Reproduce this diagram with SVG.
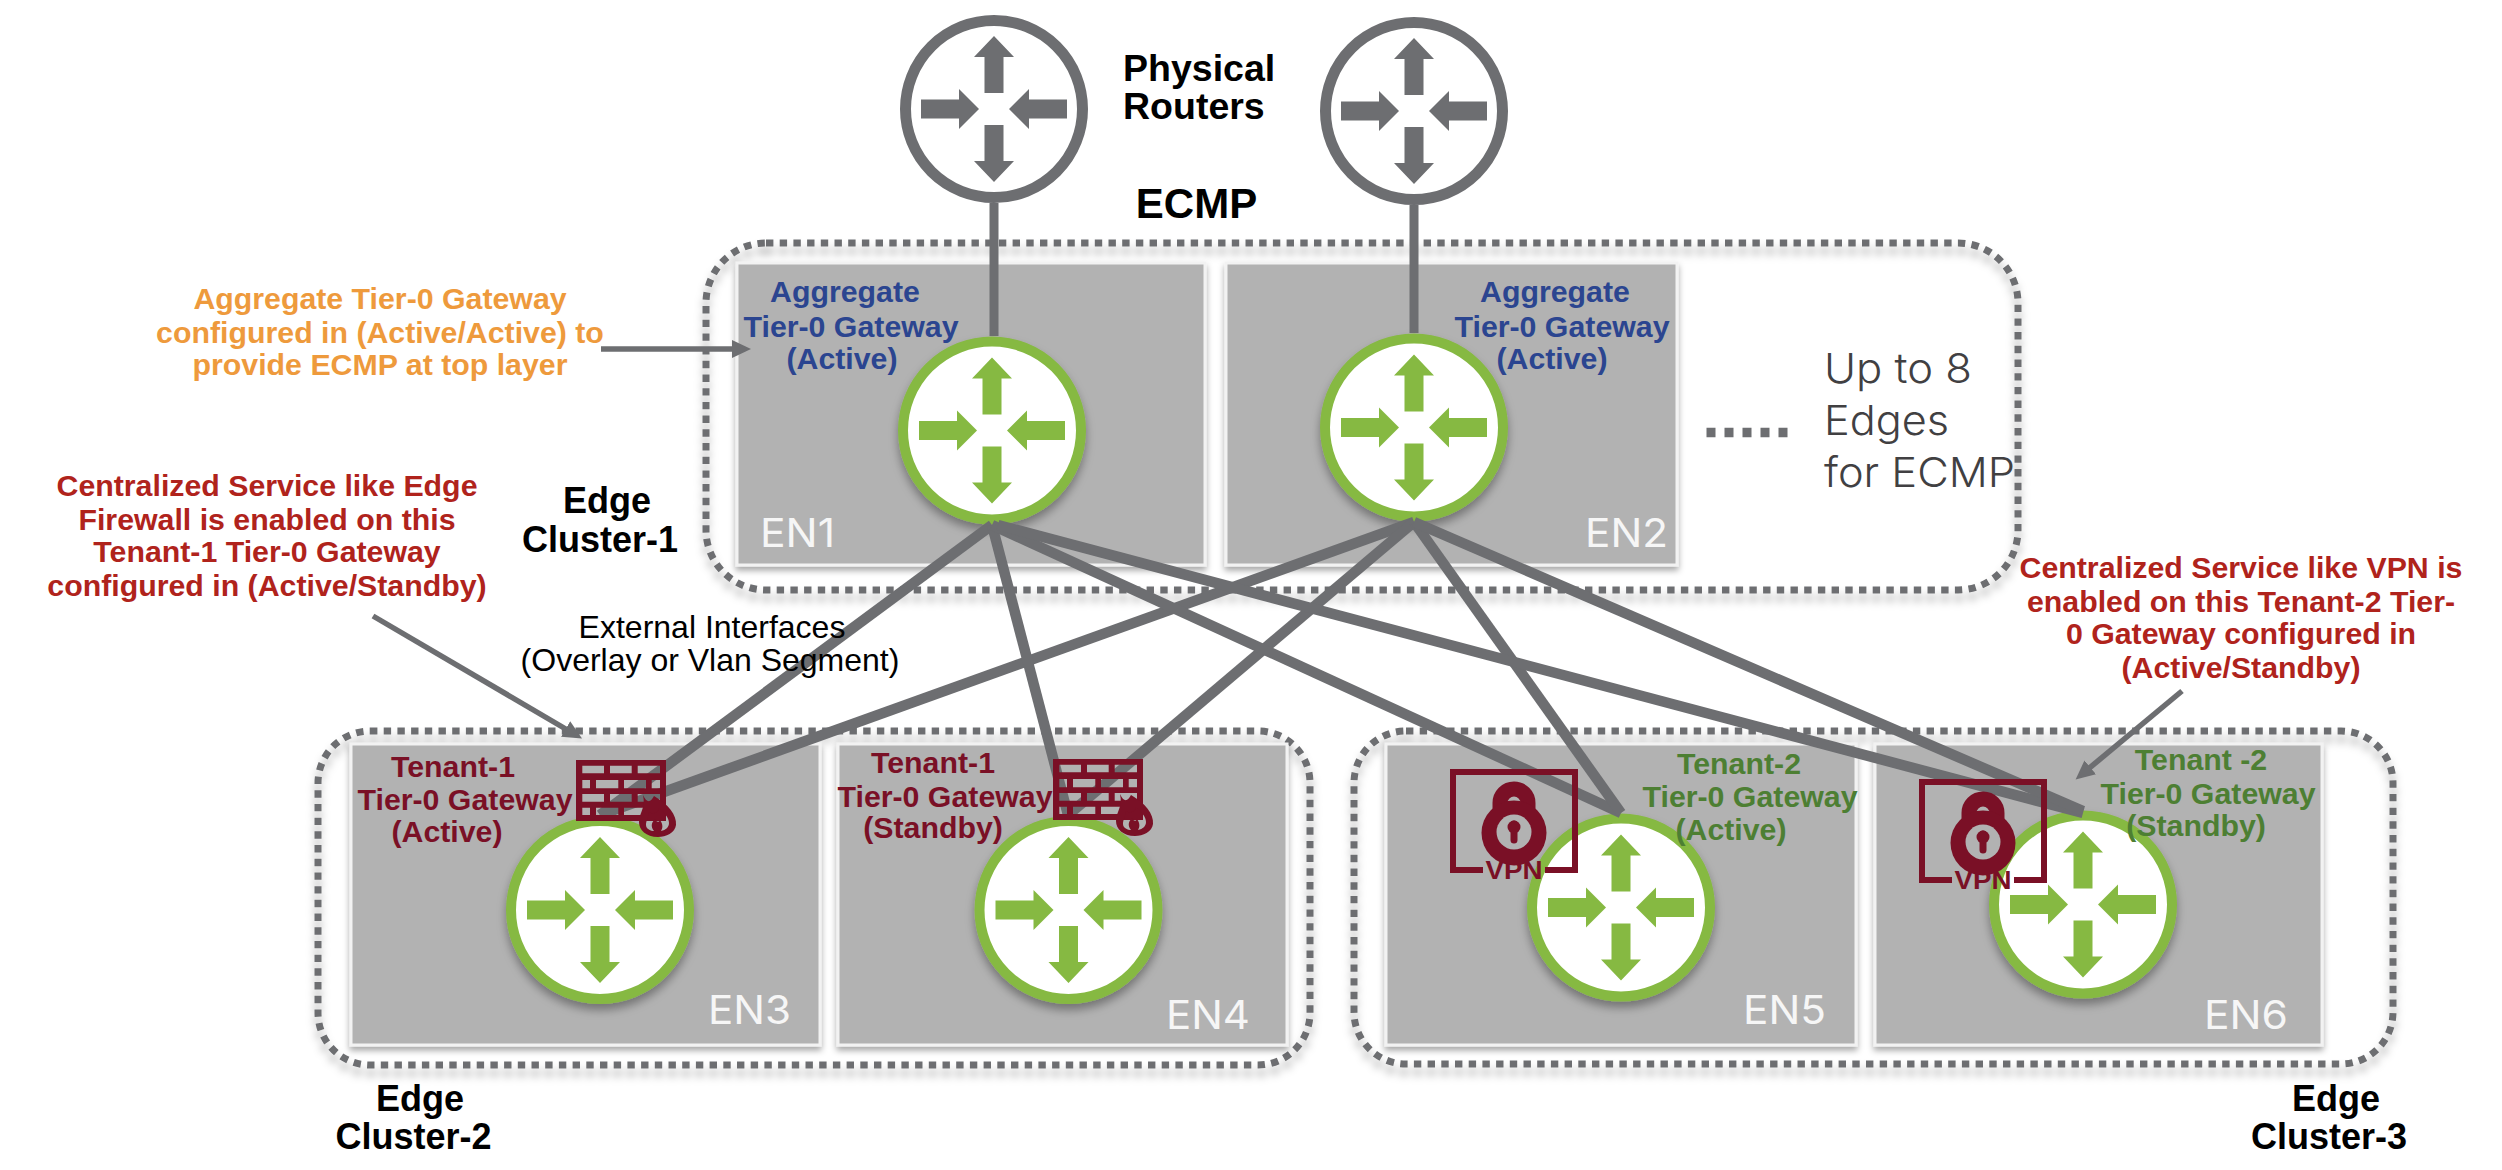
<svg xmlns="http://www.w3.org/2000/svg" width="2502" height="1170" viewBox="0 0 2502 1170">
<style>
text{font-family:"Liberation Sans",Arial,sans-serif;text-anchor:middle}
.b{font-weight:700}
.t30{font-size:30.3px;font-weight:700}
.t36{font-size:36px;font-weight:700;fill:#000}
.blue{fill:#2b4590}
.maroon{fill:#7a1026}
.green{fill:#4d7f33}
.orange{fill:#ee9a3c}
.red{fill:#b0231c}
.en{font-family:Inter,"Liberation Sans",sans-serif;font-size:39px;font-weight:400;fill:#f6f6f6;text-anchor:start}
.up{font-family:Inter,"Liberation Sans",sans-serif;font-size:41px;font-weight:300;fill:#414042;text-anchor:start}
.box{fill:#b2b2b2;stroke:#f2f2f2;stroke-width:3;filter:url(#sh)}
.cluster{fill:none;stroke:#6d6e71;stroke-width:7;stroke-dasharray:7.4 6.3;filter:url(#csh)}
.pr{fill:#fff;stroke:#6d6e71;stroke-width:11}
.gr{fill:#fff;stroke:#86b942;stroke-width:10;filter:url(#rsh)}
.ga{fill:#86b942}
.pa{fill:#6d6e71}
.link{stroke:#6d6e71;stroke-width:10.5;fill:none}
.v{stroke-width:9}
.note{stroke:#6d6e71;stroke-width:5.5;fill:none;marker-end:url(#ah)}
.ic{fill:#7a1026;fill-rule:evenodd}
</style>
<defs>
<filter id="sh" x="-5%" y="-5%" width="110%" height="112%"><feDropShadow dx="0" dy="4" stdDeviation="3" flood-color="#000" flood-opacity=".35"/></filter>
<filter id="csh" x="-3%" y="-5%" width="106%" height="115%"><feDropShadow dx="0" dy="8" stdDeviation="4" flood-color="#000" flood-opacity=".3"/></filter>
<filter id="rsh" x="-15%" y="-15%" width="130%" height="135%"><feDropShadow dx="0" dy="6" stdDeviation="5" flood-color="#000" flood-opacity=".35"/></filter>
<marker id="ah" markerUnits="userSpaceOnUse" markerWidth="22" markerHeight="20" refX="12" refY="9" orient="auto"><path d="M0,0L19,9L0,18Z" fill="#6d6e71"/></marker>
<g id="arrows">
<path d="M0,-73L20,-52H9.5V-16H-9.5V-52H-20Z"/>
<path d="M0,73L20,52H9.5V16H-9.5V52H-20Z"/>
<path d="M-73,-9.5H-35V-20L-15,0L-35,20V9.5H-73Z"/>
<path d="M73,-9.5H35V-20L15,0L35,20V9.5H73Z"/>
</g>
<g id="firewall">
<path class="ic" d="M0,0H90V61H0Z
M6.3,5.7H28V13.3H6.3Z M34,5.7H55.7V13.3H34Z M61.7,5.7H84V13.3H61.7Z
M6.3,20H14V28.3H6.3Z M20,20H42.3V28.3H20Z M48,20H70V28.3H48Z M75.7,20H84V28.3H75.7Z
M6.3,34H28V41.7H6.3Z M34,34H55.7V41.7H34Z M61.7,34H84V41.7H61.7Z
M6.3,47.7H14V55H6.3Z M20,47.7H42.3V55H20Z M48,47.7H70V55H48Z"/>
<path class="ic" d="M67,35C71,44 75,42 78,36C92,44 101,55 100,65C99,73 90,77 82,77C70,77 63,70 63,62C63,53 70,48 67,35Z
M73,52C72,58 70,61 70,65C70,69 75,71 78,71C74,66 76,62 79,59C80,62 83,63 84,60C87,64 87,68 85,71C90,70 93,67 93,63C93,58 88,52 83,48C82,53 76,55 73,52Z"/>
</g>
<g id="vpn">
<path d="M33,101H3V3H125V101H95" fill="none" stroke="#7a1026" stroke-width="6"/>
<path d="M50,50V34A14,14 0 0 1 78,34V50" fill="none" stroke="#7a1026" stroke-width="15"/>
<circle cx="64" cy="64" r="32.5" fill="#7a1026"/>
<circle cx="64" cy="63" r="17.5" fill="#b2b2b2"/>
<path d="M64,55V71" stroke="#7a1026" stroke-width="7" stroke-linecap="round"/>
<circle cx="64" cy="58" r="6.5" fill="#7a1026"/>
<text x="64" y="110" font-size="26" font-weight="700" fill="#7a1026" textLength="57" lengthAdjust="spacingAndGlyphs">VPN</text>
</g>
</defs>
<rect width="2502" height="1170" fill="#fff"/>

<g id="cluster-1"><rect class="cluster" x="706" y="243" width="1312" height="347" rx="60"/></g>
<g id="cluster-2"><rect class="cluster" x="318" y="731" width="992" height="334" rx="52"/></g>
<g id="cluster-3"><rect class="cluster" x="1354" y="731" width="1039" height="333" rx="52"/></g>

<g id="physical-router-1"><circle class="pr" cx="994" cy="109" r="88.5"/><use href="#arrows" class="pa" x="994" y="109"/></g>
<g id="physical-router-2"><circle class="pr" cx="1414" cy="111" r="88.5"/><use href="#arrows" class="pa" x="1414" y="111"/></g>

<g id="node-en1">
<rect class="box" x="737" y="263" width="468" height="302"/>
<circle class="gr" cx="992" cy="430.5" r="89"/><use href="#arrows" class="ga" x="992" y="430.5"/>
<text class="t30 blue" x="845" y="302">Aggregate</text>
<text class="t30 blue" x="851" y="337">Tier-0 Gateway</text>
<text class="t30 blue" x="842" y="369">(Active)</text>
<text class="en" x="760" y="546.5" textLength="75" lengthAdjust="spacingAndGlyphs">EN1</text>
</g>
<g id="node-en2">
<rect class="box" x="1226" y="263" width="451" height="302"/>
<circle class="gr" cx="1414" cy="427.5" r="89"/><use href="#arrows" class="ga" x="1414" y="427.5"/>
<text class="t30 blue" x="1555" y="302">Aggregate</text>
<text class="t30 blue" x="1562" y="337">Tier-0 Gateway</text>
<text class="t30 blue" x="1552" y="369">(Active)</text>
<text class="en" x="1585" y="547" textLength="83" lengthAdjust="spacingAndGlyphs">EN2</text>
</g>
<g id="node-en3">
<rect class="box" x="351" y="744" width="469" height="301"/>
<circle class="gr" cx="600" cy="910" r="89"/><use href="#arrows" class="ga" x="600" y="910"/>
<text class="t30 maroon" x="453" y="777">Tenant-1</text>
<text class="t30 maroon" x="465" y="810">Tier-0 Gateway</text>
<text class="t30 maroon" x="447" y="842">(Active)</text>
<text class="en" x="708" y="1024" textLength="83" lengthAdjust="spacingAndGlyphs">EN3</text>
</g>
<g id="node-en4">
<rect class="box" x="838" y="744" width="449" height="301"/>
<circle class="gr" cx="1068.5" cy="910" r="89"/><use href="#arrows" class="ga" x="1068.5" y="910"/>
<text class="t30 maroon" x="933" y="773">Tenant-1</text>
<text class="t30 maroon" x="945" y="807">Tier-0 Gateway</text>
<text class="t30 maroon" x="933" y="838">(Standby)</text>
<text class="en" x="1166" y="1029" textLength="84" lengthAdjust="spacingAndGlyphs">EN4</text>
</g>
<g id="node-en5">
<rect class="box" x="1386" y="744" width="470" height="301"/>
<circle class="gr" cx="1621" cy="907.5" r="89"/><use href="#arrows" class="ga" x="1621" y="907.5"/>
<text class="t30 green" x="1739" y="774">Tenant-2</text>
<text class="t30 green" x="1750" y="807">Tier-0 Gateway</text>
<text class="t30 green" x="1731" y="840">(Active)</text>
<text class="en" x="1743" y="1024" textLength="83" lengthAdjust="spacingAndGlyphs">EN5</text>
</g>
<g id="node-en6">
<rect class="box" x="1875" y="744" width="447" height="301"/>
<circle class="gr" cx="2083" cy="904.5" r="89"/><use href="#arrows" class="ga" x="2083" y="904.5"/>
<text class="t30 green" x="2201" y="770">Tenant -2</text>
<text class="t30 green" x="2208" y="804">Tier-0 Gateway</text>
<text class="t30 green" x="2196" y="836">(Standby)</text>
<text class="en" x="2204" y="1029" textLength="84" lengthAdjust="spacingAndGlyphs">EN6</text>
</g>

<g id="connectors">
<path class="link v" d="M994,203V336"/>
<path class="link v" d="M1414,205V333"/>
<path class="link" d="M992,525L600,815"/>
<path class="link" d="M1414,522L600,815"/>
<path class="link" d="M992,525L1068,815"/>
<path class="link" d="M1414,522L1068,815"/>
<path class="link" d="M992,525L1621,813"/>
<path class="link" d="M1414,522L1621,813"/>
<path class="link" d="M998,525L2083,813"/>
<path class="link" d="M1414,522L2083,811"/>
<path class="note" d="M601,349H744"/>
<path class="note" d="M373,616L576,735"/>
<path class="note" d="M2182,691L2081,775"/>
</g>

<g id="firewall-en3"><use href="#firewall" x="576" y="760"/></g>
<g id="firewall-en4"><use href="#firewall" x="1053" y="759"/></g>
<g id="vpn-en5"><use href="#vpn" x="1450" y="769"/></g>
<g id="vpn-en6"><use href="#vpn" x="1919" y="779"/></g>

<g id="labels">
<text class="b" font-size="37.5" x="1123" y="81" style="text-anchor:start">Physical</text>
<text class="b" font-size="37.5" x="1123" y="119" style="text-anchor:start">Routers</text>
<text class="b" font-size="42" x="1196.5" y="218">ECMP</text>
<text class="t36" x="607" y="513">Edge</text>
<text class="t36" x="600" y="552">Cluster-1</text>
<text class="t36" x="420" y="1111">Edge</text>
<text class="t36" x="413.5" y="1149">Cluster-2</text>
<text class="t36" x="2336" y="1111">Edge</text>
<text class="t36" x="2329" y="1149">Cluster-3</text>
<text class="t30 orange" x="380" y="309">Aggregate Tier-0 Gateway</text>
<text class="t30 orange" x="380" y="343">configured in (Active/Active) to</text>
<text class="t30 orange" x="380" y="375">provide ECMP at top layer</text>
<text class="t30 red" x="267" y="496">Centralized Service like Edge</text>
<text class="t30 red" x="267" y="530">Firewall is enabled on this</text>
<text class="t30 red" x="267" y="562">Tenant-1 Tier-0 Gateway</text>
<text class="t30 red" x="267" y="596">configured in (Active/Standby)</text>
<text class="t30 red" x="2241" y="578">Centralized Service like VPN is</text>
<text class="t30 red" x="2241" y="612">enabled on this Tenant-2 Tier-</text>
<text class="t30 red" x="2241" y="644">0 Gateway configured in</text>
<text class="t30 red" x="2241" y="678">(Active/Standby)</text>
<text font-size="32" x="712" y="638">External Interfaces</text>
<text font-size="32" x="710" y="671">(Overlay or Vlan Segment)</text>
<text class="up" x="1824" y="383" textLength="148" lengthAdjust="spacingAndGlyphs">Up to 8</text>
<text class="up" x="1824" y="435" textLength="125" lengthAdjust="spacingAndGlyphs">Edges</text>
<text class="up" x="1824" y="487" textLength="191" lengthAdjust="spacingAndGlyphs">for ECMP</text>
<path d="M1706.5,432.5H1790" stroke="#6d6e71" stroke-width="9.5" stroke-dasharray="9 9" fill="none"/>
</g>
</svg>
